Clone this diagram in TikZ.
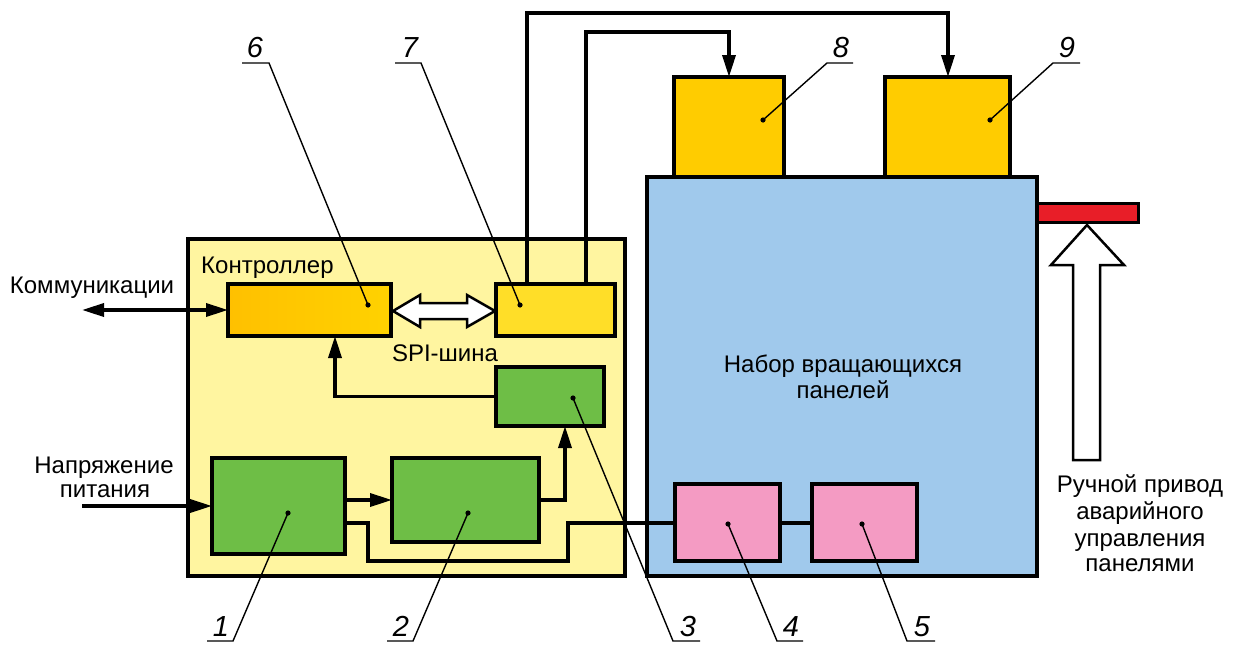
\documentclass[tikz,border=0pt]{standalone}
\usepackage{fontspec}
\setmainfont{Liberation Sans}
\usetikzlibrary{arrows.meta}
\definecolor{ctrlY}{RGB}{255,245,160}
\definecolor{panelB}{RGB}{160,201,236}
\definecolor{grn}{RGB}{110,190,70}
\definecolor{pnk}{RGB}{244,155,195}
\definecolor{gold}{RGB}{255,204,0}
\definecolor{yel7}{RGB}{255,222,40}
\definecolor{orL}{RGB}{255,192,0}
\definecolor{orR}{RGB}{255,210,0}
\definecolor{hred}{RGB}{232,30,40}
\begin{document}
\begin{tikzpicture}[x=1pt,y=-1pt,
  >={Triangle[length=22pt,width=13pt]},
  blk/.style={draw=black, line width=4pt, inner sep=0pt, outer sep=0pt, anchor=north west},
  conn/.style={draw=black, line width=3.5pt},
  leader/.style={draw=black, line width=1.4pt},
  hollow/.style={draw=black, line width=2.5pt, fill=white, line join=miter},
  txt/.style={inner sep=0pt, font=\fontsize{24}{28}\selectfont},
  num/.style={inner sep=0pt, anchor=base, font=\fontsize{29}{30}\selectfont\itshape}]
\useasboundingbox (0,0) rectangle (1234,645);
\fill[white] (0,0) rectangle (1234,645);

% big frames
\node[blk, fill=ctrlY, minimum width=437, minimum height=337] (ctrl) at (188,239) {};
\node[blk, fill=panelB, minimum width=390, minimum height=399] (panel) at (647,177) {};

% blocks
\node[blk, left color=orL, right color=orR, minimum width=163, minimum height=52] (b6) at (228,284) {};
\node[blk, fill=yel7, minimum width=119, minimum height=52] (b7) at (496,284) {};
\node[blk, fill=grn, minimum width=108, minimum height=59] (b3) at (496,367) {};
\node[blk, fill=grn, minimum width=133, minimum height=96] (b1) at (212,458) {};
\node[blk, fill=grn, minimum width=147, minimum height=84] (b2) at (392,458) {};
\node[blk, fill=pnk, minimum width=105, minimum height=77] (b4) at (675,484) {};
\node[blk, fill=pnk, minimum width=105, minimum height=77] (b5) at (812,484) {};
\node[blk, fill=gold, minimum width=110, minimum height=100] (b8) at (674,77) {};
\node[blk, fill=gold, minimum width=125, minimum height=100] (b9) at (885,77) {};

% handle
\draw[line width=3pt, fill=hred] (1037,203) rectangle (1138,222);
\draw[hollow] (1087,225) -- (1124,265) -- (1100,265) -- (1100,460) -- (1073,460) -- (1073,265) -- (1051,265) -- cycle;

% SPI double arrow
\draw[hollow] (393,311) -- (420,295) -- (420,303) -- (467,303) -- (467,295) -- (495,311) -- (467,327) -- (467,319) -- (420,319) -- (420,327) -- cycle;

% coordinates for connectors
\coordinate (ca) at (527,13);
\coordinate (cb) at (586,32);
\coordinate (x9) at (948,0);
\coordinate (x8) at (729,0);
\coordinate (x6) at (335,0);
\coordinate (x3) at (565,0);
\coordinate (comm) at (82,310);
\coordinate (pwr) at (82,506);
\coordinate (r1) at (345,523);
\coordinate (r2) at (368,523);
\coordinate (r3) at (368,561);
\coordinate (r4) at (568,561);
\coordinate (r5) at (568,523);

% connectors
\draw[conn,->] (b7.north -| ca) -- (ca) -| (b9.north -| x9);
\draw[conn,->] (b7.north -| cb) -- (cb) -| (b8.north -| x8);
\draw[conn,<->] (comm) -- (b6.west);
\draw[conn,->] (pwr) -- (b1.west);
\draw[conn,->] (b3.west) -| (b6.south -| x6);
\draw[conn,->] (b1.east |- b2.west) -- (b2.west);
\draw[conn,->] (b2.east) -| (b3.south -| x3);
\draw[conn] (r1) -- (r2) -- (r3) -- (r4) -- (r5) -- (b4.west |- r5);
\draw[conn] (b4.east |- r5) -- (b5.west |- r5);

% texts
\node[txt, anchor=base west] (tctrl) at (201,273) {Контроллер};
\node[txt, anchor=base] (tcomm) at (92,293) {Коммуникации};
\node[txt, anchor=base] (tpw1) at (104,473) {Напряжение};
\node[txt, anchor=base] (tpw2) at (105,497) {питания};
\node[txt, anchor=base] (tspi) at (445,361) {SPI-шина};
\node[txt, anchor=base] (tpan1) at (843,372) {Набор вращающихся};
\node[txt, anchor=base] (tpan2) at (843,398) {панелей};
\node[txt, anchor=base] (th1) at (1140,492) {Ручной привод};
\node[txt, anchor=base] (th2) at (1140,519) {аварийного};
\node[txt, anchor=base] (th3) at (1140,546) {управления};
\node[txt, anchor=base] (th4) at (1140,571) {панелями};

% leader dots
\coordinate (d1) at (288,513);
\coordinate (d2) at (468,513);
\coordinate (d3) at (573,398);
\coordinate (d4) at (728,524);
\coordinate (d5) at (862,524);
\coordinate (d6) at (368,305);
\coordinate (d7) at (520,305);
\coordinate (d8) at (763,120);
\coordinate (d9) at (990,120);
\foreach \d in {d1,d2,d3,d4,d5,d6,d7,d8,d9} \fill (\d) circle (2.6);

% number labels
\node[num] (n1) at (221,636) {1};
\node[num] (n2) at (401,636) {2};
\node[num] (n3) at (688,636) {3};
\node[num] (n4) at (791,636) {4};
\node[num] (n5) at (922,636) {5};
\node[num] (n6) at (255,57) {6};
\node[num] (n7) at (410,57) {7};
\node[num] (n8) at (841,57) {8};
\node[num] (n9) at (1067,57) {9};

\draw[leader] (207,641) -- (233,641) -- (d1);
\draw[leader] (387,641) -- (413,641) -- (d2);
\draw[leader] (700,641) -- (673,641) -- (d3);
\draw[leader] (803,641) -- (777,641) -- (d4);
\draw[leader] (935,641) -- (907,641) -- (d5);
\draw[leader] (242,63) -- (269,63) -- (d6);
\draw[leader] (395,63) -- (421,63) -- (d7);
\draw[leader] (853,63) -- (827,63) -- (d8);
\draw[leader] (1080,63) -- (1053,63) -- (d9);
\end{tikzpicture}
\end{document}
